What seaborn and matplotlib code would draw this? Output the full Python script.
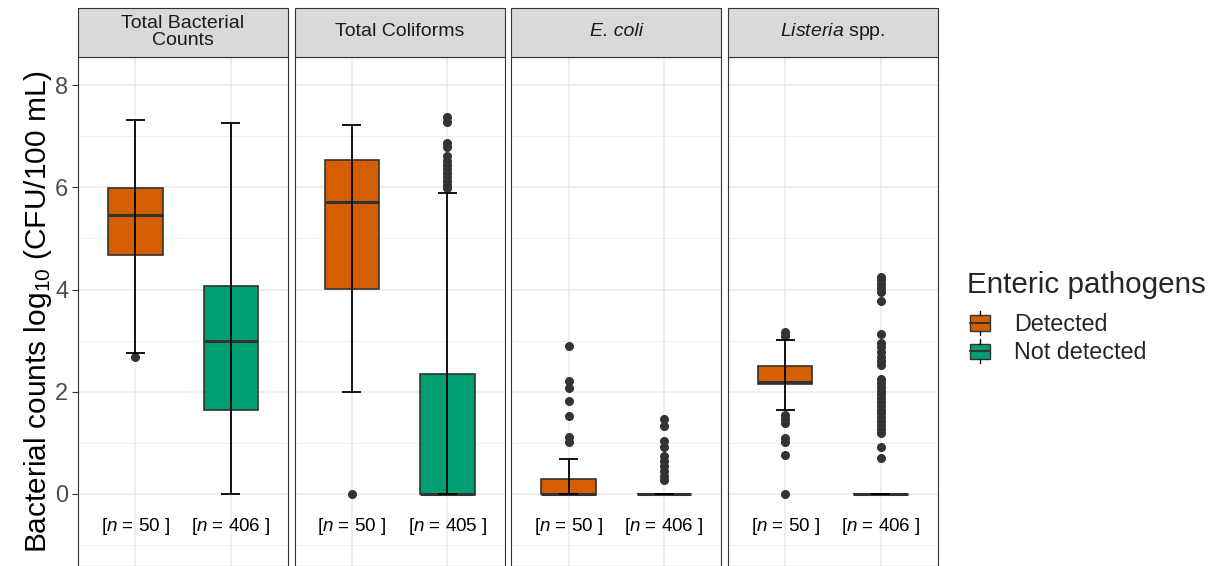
import matplotlib
matplotlib.use("Agg")
import matplotlib.pyplot as plt
import seaborn as sns
from matplotlib.patches import Rectangle, Patch
from matplotlib.lines import Line2D
from matplotlib.legend_handler import HandlerBase

# facets and groups
facets = ["Total Bacterial\nCounts", "Total Coliforms", "E. coli", r"$\it{Listeria}$ spp."]
facet_style = ["normal", "normal", "italic", "normal"]
groups = ["Detected", "Not detected"]
n_counts = [[50, 406], [50, 405], [50, 406], [50, 406]]

# box statistics: [Detected, Not detected]
whis_lo = [[2.76, 0.0], [2.0, 0.0], [0.0, 0.0], [1.65, 0.0]]
q1 = [[4.67, 1.64], [4.02, 0.0], [0.0, 0.0], [2.15, 0.0]]
median = [[5.45, 2.99], [5.72, 0.0], [0.0, 0.0], [2.19, 0.0]]
q3 = [[5.99, 4.06], [6.53, 2.34], [0.29, 0.0], [2.51, 0.0]]
whis_hi = [[7.31, 7.26], [7.21, 5.88], [0.69, 0.0], [3.02, 0.0]]

outliers = [
    [[2.68], []],
    [[0.0],
     [7.37, 7.28, 6.86, 6.78, 6.62, 6.52, 6.44, 6.36, 6.28, 6.2, 6.12, 6.05, 5.98]],
    [[2.89, 2.21, 2.08, 1.81, 1.53, 1.12, 1.02],
     [1.47, 1.33, 1.04, 0.91, 0.75, 0.65, 0.55, 0.45, 0.35, 0.28]],
    [[3.17, 3.1, 1.55, 1.47, 1.38, 1.1, 1.02, 0.77, 0.0],
     [4.25, 4.18, 4.1, 4.03, 3.95, 3.78, 3.12, 2.95, 2.87, 2.78, 2.68, 2.6, 2.52,
      2.25, 2.18, 2.1, 2.02, 1.95, 1.87, 1.8, 1.72, 1.65, 1.58, 1.5, 1.42, 1.35,
      1.28, 1.2, 0.91, 0.7]],
]

palette = dict(zip(groups, sns.color_palette(["#D55E00", "#009E73"])))

sns.set_theme(style="whitegrid")
plt.rcParams["font.family"] = ["Liberation Sans", "DejaVu Sans"]
plt.rcParams["mathtext.fontset"] = "custom"
plt.rcParams["mathtext.rm"] = "Liberation Sans"
plt.rcParams["mathtext.it"] = "Liberation Sans:italic"

fig, axes = plt.subplots(1, 4, figsize=(12.2, 5.66), dpi=100, sharey=True)
fig.subplots_adjust(left=78 / 1220, right=938 / 1220, bottom=0.0, top=1 - 57 / 566, wspace=0.031)

positions = [0, 1]
for i, ax in enumerate(axes):
    stats = []
    for j, g in enumerate(groups):
        stats.append(dict(med=median[i][j], q1=q1[i][j], q3=q3[i][j],
                          whislo=whis_lo[i][j], whishi=whis_hi[i][j],
                          fliers=outliers[i][j], label=g))
    bp = ax.bxp(stats, positions=positions, widths=0.57, patch_artist=True,
                showcaps=False, whiskerprops=dict(linewidth=0),
                boxprops=dict(edgecolor="#333333", linewidth=1.2),
                medianprops=dict(color="#333333", linewidth=2.2, solid_capstyle="butt"),
                flierprops=dict(marker="o", markerfacecolor="#333333",
                                markeredgecolor="#333333", markersize=5.5, linestyle="none"),
                zorder=3)
    for patch, g in zip(bp["boxes"], groups):
        patch.set_facecolor(palette[g])
    # errorbar style whiskers drawn over the boxes
    for j, pos in enumerate(positions):
        ax.vlines(pos, whis_lo[i][j], whis_hi[i][j], color="black", lw=1.3, zorder=4)
        ax.hlines([whis_lo[i][j], whis_hi[i][j]], pos - 0.1, pos + 0.1,
                  color="black", lw=1.3, zorder=4)
        ax.text(pos, -0.63, r"[$\it{n}$ = %d ]" % n_counts[i][j], ha="center",
                va="center", fontsize=13.5, color="black")

    ax.set_xlim(-0.6, 1.6)
    ax.set_ylim(-1.41, 8.55)
    ax.set_xticks(positions)
    ax.set_xticklabels([])
    ax.set_yticks([0, 2, 4, 6, 8])
    ax.set_yticks([-1, 1, 3, 5, 7], minor=True)
    ax.grid(True, which="major", color="#EBEBEB", lw=1.1, zorder=0)
    ax.grid(True, which="minor", axis="y", color="#EBEBEB", lw=0.55, zorder=0)
    ax.set_axisbelow(True)
    ax.tick_params(axis="x", length=0)
    ax.tick_params(axis="y", which="major", length=4, width=0.8, color="#333333",
                   labelsize=17, labelcolor="#4D4D4D", pad=3, left=(i == 0))
    ax.tick_params(axis="y", which="minor", length=0)
    for sp in ax.spines.values():
        sp.set_color("#333333")
        sp.set_linewidth(0.8)
    ax.set_xlabel("")

    # facet strip
    ax.add_patch(Rectangle((0, 1), 1, 49 / 509, transform=ax.transAxes,
                           facecolor="#D9D9D9", edgecolor="#333333", lw=0.8,
                           clip_on=False, zorder=5))
    ax.text(0.5, 1 + 25 / 509, facets[i], transform=ax.transAxes, ha="center",
            va="center", fontsize=14, color="#1A1A1A", linespacing=1.0,
            style=facet_style[i], zorder=6)

axes[0].set_ylabel(r"Bacterial counts log$_{10}$ (CFU/100 mL)", fontsize=21.5,
                   color="black", labelpad=1)


class BoxHandler(HandlerBase):
    def create_artists(self, legend, orig_handle, xdescent, ydescent, width,
                       height, fontsize, trans):
        x0, y0 = -xdescent, -ydescent
        fc = orig_handle.get_facecolor()
        rect = Rectangle((x0 + width * 0.1, y0 + height * 0.12), width * 0.8, height * 0.76,
                         facecolor=fc, edgecolor="#333333", lw=1.0, transform=trans)
        med = Line2D([x0 + width * 0.1, x0 + width * 0.9], [y0 + height / 2] * 2,
                     color="#333333", lw=1.5, transform=trans)
        wt = Line2D([x0 + width / 2] * 2, [y0 + height * 0.88, y0 + height * 1.1],
                    color="black", lw=1.0, transform=trans)
        wb = Line2D([x0 + width / 2] * 2, [y0 - height * 0.1, y0 + height * 0.12],
                    color="black", lw=1.0, transform=trans)
        return [rect, med, wt, wb]


handles = [Patch(facecolor=palette[g], label=g) for g in groups]
leg = fig.legend(handles=handles, labels=groups, title="Enteric pathogens",
                 loc="upper left", bbox_to_anchor=(946 / 1220, 1 - 250 / 566),
                 frameon=False, fontsize=16.8, title_fontsize=21.3,
                 handler_map={Patch: BoxHandler()}, handlelength=1.1,
                 handleheight=0.95, handletextpad=0.9, labelspacing=0.22)
leg._legend_box.align = "left"
leg._legend_box.sep = 10

fig.savefig("out.png", dpi=100)
